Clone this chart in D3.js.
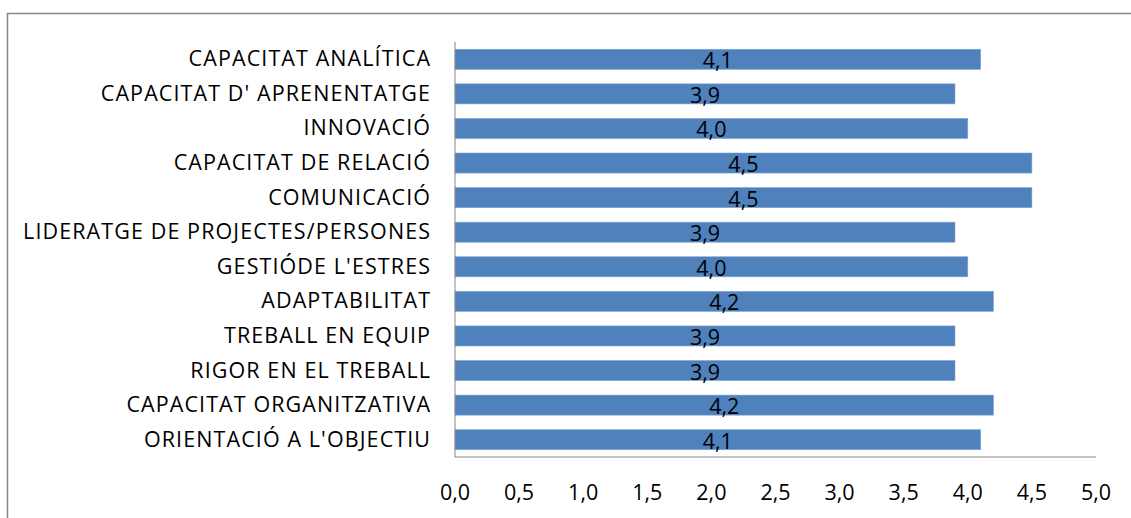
<!DOCTYPE html>
<html><head><meta charset="utf-8">
<script src="https://cdn.jsdelivr.net/npm/d3@7"></script>
<style>body{margin:0;background:#fff}svg{display:block}</style>
</head><body><svg id="c" width="1131" height="518"></svg>
<script>
const categories = ["CAPACITAT ANALÍTICA","CAPACITAT D' APRENENTATGE","INNOVACIÓ","CAPACITAT DE RELACIÓ","COMUNICACIÓ","LIDERATGE DE PROJECTES/PERSONES","GESTIÓDE L'ESTRES","ADAPTABILITAT","TREBALL EN EQUIP","RIGOR EN EL TREBALL","CAPACITAT ORGANITZATIVA","ORIENTACIÓ A L'OBJECTIU"];
const values = [4.1,3.9,4.0,4.5,4.5,3.9,4.0,4.2,3.9,3.9,4.2,4.1];
const xTicks = [0,0.5,1,1.5,2,2.5,3,3.5,4,4.5,5];
const fmt = v => d3.format(".1f")(v).replace(".", ",");

(function(){
const svg = d3.select("#c");
const font = "'Open Sans', sans-serif";
const fs = 21.5;
const probe = svg.append("text").attr("font-family",font).attr("font-size",fs).text(categories[5]);
const w = probe.node().getComputedTextLength();
probe.remove();
const ls = Math.max(0, (408 - w) / categories[5].length);

svg.append("rect").attr("x",7.5).attr("y",13.5).attr("width",1140).attr("height",520)
  .attr("fill","#fff").attr("stroke","#868686").attr("stroke-width",1.5);

const L=455, R=1096, T=42, B=457;
const x = d3.scaleLinear().domain([0,5]).range([L,R]);
const y = d3.scaleBand().domain(categories).range([T,B]).paddingInner(0.42).paddingOuter(0.21);

svg.append("g").selectAll("rect").data(values).join("rect")
  .attr("x", x(0)).attr("y",(d,i)=>y(categories[i]))
  .attr("width", d=>x(d)-x(0)).attr("height", y.bandwidth())
  .attr("fill","#4f81bd").attr("stroke","#7fa3d1").attr("stroke-width",0.6);

svg.append("g").selectAll("text").data(values).join("text")
  .attr("x", d=>(x(0)+x(d))/2).attr("y",(d,i)=>y(categories[i])+y.bandwidth()/2+9)
  .attr("text-anchor","middle").attr("font-family",font).attr("font-size",fs).attr("fill","#000")
  .text(fmt);

svg.append("line").attr("x1",L).attr("x2",L).attr("y1",T).attr("y2",B).attr("stroke","#868686").attr("stroke-width",1);
svg.append("line").attr("x1",L).attr("x2",R).attr("y1",B).attr("y2",B).attr("stroke","#868686").attr("stroke-width",1);

svg.append("g").selectAll("text").data(categories).join("text")
  .attr("x",430 + ls).attr("y",d=>y(d)+y.bandwidth()/2+7)
  .attr("text-anchor","end").attr("font-family",font).attr("font-size",fs)
  .attr("letter-spacing", ls).attr("fill","#000")
  .text(d=>d);

svg.append("g").selectAll("text").data(xTicks).join("text")
  .attr("x",d=>x(d)).attr("y",500)
  .attr("text-anchor","middle").attr("font-family",font).attr("font-size",fs).attr("fill","#000")
  .text(fmt);
})();
</script></body></html>
